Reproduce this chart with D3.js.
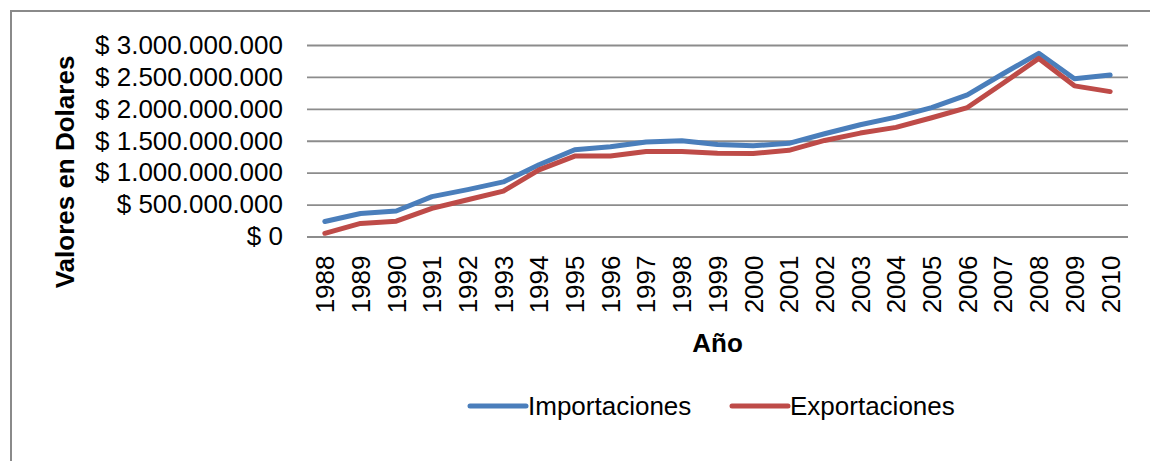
<!DOCTYPE html>
<html>
<head>
<meta charset="utf-8">
<script src="https://cdn.jsdelivr.net/npm/d3@7/dist/d3.min.js"></script>
<style>
  html, body { margin: 0; padding: 0; background: #fff; }
  svg { display: block; font-family: "Liberation Sans", Arial, Helvetica, sans-serif; }
</style>
</head>
<body>
<svg id="chart" width="1150" height="461"></svg>
<script>
// Años del período
const years = ["1988","1989","1990","1991","1992","1993","1994","1995","1996","1997","1998","1999",
               "2000","2001","2002","2003","2004","2005","2006","2007","2008","2009","2010"];

// Valores anuales en dólares
const importaciones = [235e6, 360e6, 400e6, 625e6, 735e6, 855e6, 1125e6, 1360e6, 1405e6, 1480e6, 1500e6, 1440e6,
                       1420e6, 1460e6, 1610e6, 1750e6, 1870e6, 2020e6, 2220e6, 2550e6, 2870e6, 2470e6, 2530e6];
const exportaciones = [50e6, 205e6, 240e6, 440e6, 575e6, 710e6, 1045e6, 1260e6, 1260e6, 1330e6, 1330e6, 1305e6,
                       1300e6, 1350e6, 1505e6, 1620e6, 1710e6, 1860e6, 2020e6, 2400e6, 2790e6, 2360e6, 2270e6];

const yTicks = [0, 500e6, 1000e6, 1500e6, 2000e6, 2500e6, 3000e6];

const seriesNames = ["Importaciones", "Exportaciones"];
const seriesColors = ["#4a7ebb", "#be4b48"];

const svg = d3.select("#chart");
const FONT = 26;

// Marco exterior del gráfico
svg.append("rect")
  .attr("x", 11).attr("y", 11)
  .attr("width", 1200).attr("height", 500)
  .attr("fill", "none")
  .attr("stroke", "#8a8a8a")
  .attr("stroke-width", 2);

const plot = { left: 307, right: 1128, top: 45, bottom: 236.5 };

const x = d3.scaleBand().domain(years).range([plot.left, plot.right]);
const y = d3.scaleLinear().domain([0, 3e9]).range([plot.bottom, plot.top]);

const locale = d3.formatLocale({ decimal: ",", thousands: ".", grouping: [3], currency: ["$ ", ""] });
const fmt = locale.format("$,.0f");

// Líneas de cuadrícula y etiquetas del eje Y
const yAxis = d3.axisLeft(y)
  .tickValues(yTicks)
  .tickFormat(fmt)
  .tickSize(-(plot.right - plot.left))
  .tickPadding(24);

const gy = svg.append("g")
  .attr("transform", `translate(${plot.left},0)`)
  .call(yAxis);
gy.select(".domain").remove();
gy.selectAll(".tick line").attr("stroke", "#8c8c8c").attr("stroke-width", 1.8);
gy.selectAll(".tick text")
  .attr("font-size", FONT)
  .attr("fill", "#000")
  .attr("font-family", "'Liberation Sans', Arial, sans-serif");

// Etiquetas del eje X (años, en vertical)
const xAxis = d3.axisBottom(x).tickSize(0).tickPadding(0);
const gx = svg.append("g")
  .attr("transform", `translate(0,${plot.bottom})`)
  .call(xAxis);
gx.select(".domain").remove();
gx.selectAll(".tick text")
  .attr("font-size", FONT)
  .attr("fill", "#000")
  .attr("font-family", "'Liberation Sans', Arial, sans-serif")
  .attr("text-anchor", "end")
  .attr("transform", "rotate(-90)")
  .attr("x", -19)
  .attr("y", 0)
  .attr("dy", "0.36em");

// Títulos de los ejes
svg.append("text")
  .attr("transform", "translate(74,172) rotate(-90)")
  .attr("text-anchor", "middle")
  .attr("font-size", FONT)
  .attr("font-weight", "bold")
  .text("Valores en Dolares");

svg.append("text")
  .attr("x", (plot.left + plot.right) / 2)
  .attr("y", 352)
  .attr("text-anchor", "middle")
  .attr("font-size", FONT)
  .attr("font-weight", "bold")
  .text("Año");

// Series
const line = d3.line()
  .x((d, i) => x(years[i]) + x.bandwidth() / 2)
  .y(d => y(d));

[importaciones, exportaciones].forEach((vals, k) => {
  svg.append("path")
    .datum(vals)
    .attr("d", line)
    .attr("fill", "none")
    .attr("stroke", seriesColors[k])
    .attr("stroke-width", 5)
    .attr("stroke-linejoin", "round")
    .attr("stroke-linecap", "round");
});

// Leyenda
const legendItems = [
  { name: seriesNames[0], color: seriesColors[0], x: 470 },
  { name: seriesNames[1], color: seriesColors[1], x: 732 }
];
const lg = svg.append("g");
legendItems.forEach(it => {
  lg.append("line")
    .attr("x1", it.x).attr("x2", it.x + 56)
    .attr("y1", 406).attr("y2", 406)
    .attr("stroke", it.color)
    .attr("stroke-width", 5)
    .attr("stroke-linecap", "round");
  lg.append("text")
    .attr("x", it.x + 58)
    .attr("y", 406)
    .attr("dy", "0.35em")
    .attr("font-size", FONT)
    .text(it.name);
});
</script>
</body>
</html>
